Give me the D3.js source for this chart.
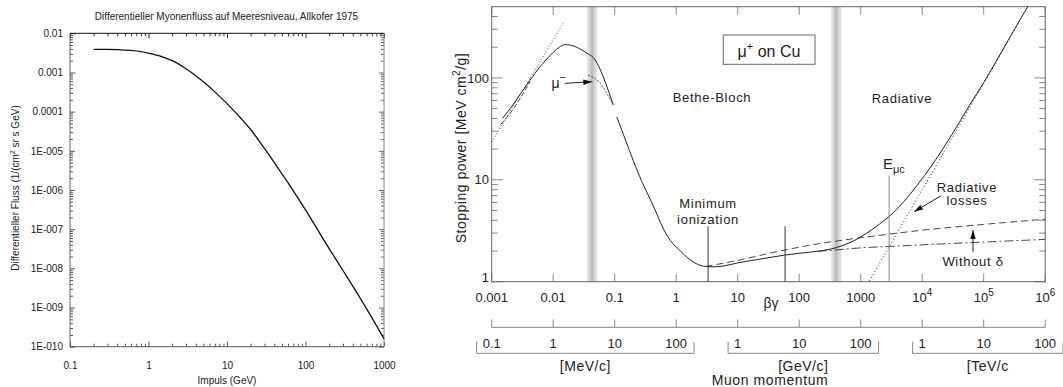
<!DOCTYPE html>
<html>
<head>
<meta charset="utf-8">
<script src="https://cdn.jsdelivr.net/npm/d3@7/dist/d3.min.js"></script>
<style>
html,body{margin:0;padding:0;background:#fff;}
svg{display:block;font-family:"Liberation Sans",Arial,Helvetica,sans-serif;}
</style>
</head>
<body>
<svg id="chart" width="1063" height="387"></svg>
<script>
// ================= DATA: left panel (muon flux at sea level) =================
const fluxMomentum = [0.2,0.3,0.4,0.6,0.8,1,1.5,2,3,4,5,7,10,15,20,30,50,70,100,200,300,500,700,1000];
const fluxValues   = [3.9e-3,3.9e-3,3.85e-3,3.65e-3,3.4e-3,3.1e-3,2.5e-3,2.0e-3,1.25e-3,8.3e-4,5.8e-4,3.2e-4,1.6e-4,6.8e-5,3.5e-5,1.15e-5,2.6e-6,9.5e-7,3.1e-7,3.2e-8,8.8e-9,1.7e-9,5.5e-10,1.6e-10];
const fluxXTicks = [0.1,1,10,100,1000];
const fluxXTickLabels = ["0.1","1","10","100","1000"];
const fluxYTicks = [1e-10,1e-9,1e-8,1e-7,1e-6,1e-5,1e-4,1e-3,1e-2];
const fluxYTickLabels = ["1E-010","1E-009","1E-008","1E-007","1E-006","1E-005","0.0001","0.001","0.01"];

// ================= DATA: right panel (stopping power, mu+ on Cu) =================
const bgTicks = [1e-3,1e-2,1e-1,1,10,100,1000,1e4,1e5,1e6];
const bgTickLabels = ["0.001","0.01","0.1","1","10","100","1000","10^4","10^5","10^6"];
const spTicks = [1,10,100];
const spTickLabels = ["1","10","100"];
const spDomainTop = 500;

// total stopping power, low-energy branch
const totalLowBG = [0.0015,0.002,0.003,0.0042,0.006,0.008,0.01,0.0125,0.0155,0.019,0.025,0.03,0.037,0.045,0.055,0.065,0.08,0.095];
const totalLowS  = [40,50,71,95,127,155,178,200,212,210,198,186,172,158,130,103,73,54];
// total stopping power, Bethe + radiative branch
const totalHighBG = [0.108,0.15,0.2,0.3,0.4,0.5,0.62,0.8,1.15,1.5,2,3,4,6,10,20,40,60,100,200,400,700,1000,1500,2000,3000,5000,8000,15000,30000,60000,1e5,2e5,4e5,6e5];
const totalHighS  = [41.5,24.5,15.5,8.6,6.0,4.4,3.3,2.55,2.02,1.74,1.53,1.41,1.40,1.43,1.53,1.64,1.76,1.83,1.9,1.99,2.16,2.45,2.75,3.22,3.66,4.45,6.1,8.6,14.4,27.4,55,90,185,383,575];
// second low-energy (dashed) curve
const lowDashBG = [0.0014,0.002,0.003,0.0042];
const lowDashS  = [35,45,65,92];
// mu- curve
const muMinusBG = [0.037,0.045,0.055,0.065,0.078,0.09];
const muMinusS  = [106,101,92,81,67,57];
// Lindhard low-energy asymptote (dotted)
const lindhardBG = [0.001,0.0146];
const lindhardS  = [23.6,345];
// ionization without density effect (dashed)
const noDeltaBG = [3,10,59,200,680,1100,1e4,1e5,1e6];
const noDeltaS  = [1.41,1.62,2.05,2.35,2.62,2.72,3.2,3.65,4.1];
// ionization with density effect (dash-dot)
const withDeltaBG = [200,400,680,1000,3000,1e4,1e5,1e6];
const withDeltaS  = [1.99,2.05,2.11,2.15,2.22,2.3,2.45,2.6];
// radiative losses (dotted)
const radBG = [1300,2000,2900,5000,1e4,2e4,5e4,1e5,2e5,4e5];
const radS  = [0.95,1.5,2.2,3.9,8.0,16.5,43,88,182,380];
// vertical marker lines: Minimum ionization, second line, E_muc
const markerBG = [3.3,59,2900];
const markerTopS = [3.5,3.5,11];
// grey transition bands
const bandBG = [0.043,400];
// momentum axis
const momTicks = [0.1,1,10,100,1e3,1e4,1e5,1e6,1e7,1e8];   // MeV/c
const momUnits = ["[MeV/c]","[GeV/c]","[TeV/c"];
const momLabelValues = [[0.1,1,10,100],[1e3,1e4,1e5],[1e6,1e7,1e8]];
const momLabelTexts  = [["0.1","1","10","100"],["1","10","100"],["1","10","100"]];

// ================= DRAWING =================
const svg = d3.select("#chart");
const defs = svg.append("defs");

function logMinors(lo, hi){
  const out=[];
  for(let e=Math.floor(Math.log10(lo)+1e-9); e<Math.ceil(Math.log10(hi)-1e-9); e++){
    for(let k=2;k<=9;k++){ const v=k*Math.pow(10,e); if(v>lo*1.0001 && v<hi*0.9999) out.push(v); }
  }
  return out;
}
function clean(g, color){
  g.attr("font-family",null).attr("font-size",null).attr("fill",null);
  g.select(".domain").remove();
  g.selectAll(".tick line").attr("stroke",color);
  g.selectAll(".tick text").attr("fill","#222");
}

// ---------- LEFT ----------
const L = {x0:70, x1:384, y0:33.3, y1:346.7};
const xL = d3.scaleLog().domain([fluxXTicks[0], fluxXTicks[fluxXTicks.length-1]]).range([L.x0, L.x1]);
const yL = d3.scaleLog().domain([fluxYTicks[0], fluxYTicks[fluxYTicks.length-1]]).range([L.y1, L.y0]);
const gl = svg.append("g").attr("font-size",10);

const xMinL = logMinors(...xL.domain()), yMinL = logMinors(...yL.domain());
gl.append("g").attr("transform",`translate(0,${L.y1})`)
  .call(d3.axisBottom(xL).tickValues(fluxXTicks).tickFormat((d,i)=>fluxXTickLabels[i]).tickSize(-5).tickPadding(15))
  .call(g=>clean(g,"#555"));
gl.append("g").attr("transform",`translate(0,${L.y1})`)
  .call(d3.axisBottom(xL).tickValues(xMinL).tickFormat("").tickSize(-3)).call(g=>clean(g,"#555"));
gl.append("g").attr("transform",`translate(0,${L.y0})`)
  .call(d3.axisTop(xL).tickValues(fluxXTicks).tickFormat("").tickSize(-5)).call(g=>clean(g,"#333"));
gl.append("g").attr("transform",`translate(0,${L.y0})`)
  .call(d3.axisTop(xL).tickValues(xMinL).tickFormat("").tickSize(-3)).call(g=>clean(g,"#333"));
gl.append("g").attr("transform",`translate(${L.x0},0)`)
  .call(d3.axisLeft(yL).tickValues(fluxYTicks).tickFormat((d,i)=>fluxYTickLabels[i]).tickSize(-5).tickPadding(7))
  .call(g=>clean(g,"#555"));
gl.append("g").attr("transform",`translate(${L.x0},0)`)
  .call(d3.axisLeft(yL).tickValues(yMinL).tickFormat("").tickSize(-3)).call(g=>clean(g,"#555"));
gl.append("g").attr("transform",`translate(${L.x1},0)`)
  .call(d3.axisRight(yL).tickValues(fluxYTicks).tickFormat("").tickSize(-5)).call(g=>clean(g,"#666"));
gl.append("g").attr("transform",`translate(${L.x1},0)`)
  .call(d3.axisRight(yL).tickValues(yMinL).tickFormat("").tickSize(-3)).call(g=>clean(g,"#666"));

// frame
gl.append("line").attr("x1",L.x0).attr("x2",L.x0).attr("y1",L.y0).attr("y2",L.y1).attr("stroke","#666");
gl.append("line").attr("x1",L.x1).attr("x2",L.x1).attr("y1",L.y0).attr("y2",L.y1).attr("stroke","#888");
gl.append("line").attr("x1",L.x0).attr("x2",L.x1).attr("y1",L.y1).attr("y2",L.y1).attr("stroke","#555");
gl.append("line").attr("x1",L.x0).attr("x2",L.x1).attr("y1",L.y0).attr("y2",L.y0).attr("stroke","#111");

gl.append("path")
  .datum(fluxMomentum.map((m,i)=>[m,fluxValues[i]]))
  .attr("fill","none").attr("stroke","#111").attr("stroke-width",1.3)
  .attr("d", d3.line().x(d=>xL(d[0])).y(d=>yL(d[1])).curve(d3.curveMonotoneX));

gl.append("text").attr("x",(L.x0+L.x1)/2-0.5).attr("y",20).attr("text-anchor","middle").attr("fill","#222")
  .text("Differentieller Myonenfluss auf Meeresniveau, Allkofer 1975");
gl.append("text").attr("x",(L.x0+L.x1)/2).attr("y",384).attr("text-anchor","middle").attr("fill","#222")
  .text("Impuls (GeV)");
const yt = gl.append("text").attr("transform","translate(19,188) rotate(-90)").attr("text-anchor","middle").attr("fill","#222");
yt.append("tspan").text("Differentieller Fluss (1/(cm");
yt.append("tspan").attr("dy",-4).attr("font-size",7).text("2");
yt.append("tspan").attr("dy",4).text(" sr s GeV)");

// ---------- RIGHT ----------
const R = {x0:491.7, x1:1045.2, y0:6.7, y1:281.7};
const xR = d3.scaleLog().domain([bgTicks[0], bgTicks[bgTicks.length-1]]).range([R.x0, R.x1]);
const yR = d3.scaleLog().domain([spTicks[0], spDomainTop]).range([R.y1, R.y0]);
const pR = d3.scaleLog().domain([momTicks[0], momTicks[momTicks.length-1]]).range([R.x0, R.x1]);
const gr = svg.append("g");

// band gradient
const grad = defs.append("linearGradient").attr("id","bandGrad").attr("x1","0%").attr("x2","100%");
[["0%","#eeeeee"],["30%","#d2d2d2"],["50%","#b8b8b8"],["70%","#d2d2d2"],["100%","#eeeeee"]]
  .forEach(s=>grad.append("stop").attr("offset",s[0]).attr("stop-color",s[1]));
gr.selectAll("rect.band").data(bandBG).join("rect").attr("class","band")
  .attr("x",d=>xR(d)-5.5).attr("width",11).attr("y",R.y0).attr("height",R.y1-R.y0)
  .attr("fill","url(#bandGrad)");

// ticks
const tickCol = "#888";
const spMinor = logMinors(...yR.domain());
const tk = gr.append("g").attr("stroke",tickCol);
tk.selectAll("line.yl").data(spTicks.concat(spMinor)).join("line")
  .attr("x1",R.x0).attr("x2",d=>R.x0+(spTicks.includes(d)?11:6)).attr("y1",d=>yR(d)).attr("y2",d=>yR(d));
tk.selectAll("line.yr").data(spTicks.concat(spMinor)).join("line")
  .attr("x1",R.x1).attr("x2",d=>R.x1-(spTicks.includes(d)?11:6)).attr("y1",d=>yR(d)).attr("y2",d=>yR(d));
tk.selectAll("line.xb").data(bgTicks).join("line")
  .attr("x1",d=>xR(d)).attr("x2",d=>xR(d)).attr("y1",R.y1).attr("y2",R.y1-8);
tk.selectAll("line.xt").data(bgTicks).join("line")
  .attr("x1",d=>xR(d)).attr("x2",d=>xR(d)).attr("y1",R.y0).attr("y2",R.y0+8);

// frame
gr.append("rect").attr("x",R.x0).attr("y",R.y0).attr("width",R.x1-R.x0).attr("height",R.y1-R.y0)
  .attr("fill","none").attr("stroke","#666");

// clip
defs.append("clipPath").attr("id","clipR").append("rect")
  .attr("x",R.x0).attr("y",R.y0).attr("width",R.x1-R.x0).attr("height",R.y1-R.y0);
const cg = gr.append("g").attr("clip-path","url(#clipR)").attr("fill","none");
const lineR = d3.line().x(d=>xR(d[0])).y(d=>yR(d[1])).curve(d3.curveMonotoneX);
function curve(bg, s, dash, col, w){
  cg.append("path").datum(bg.map((b,i)=>[b,s[i]])).attr("d",lineR)
    .attr("stroke",col||"#222").attr("stroke-width",w||1).attr("stroke-dasharray",dash||null);
}
curve(lindhardBG, lindhardS, "1,2", "#444", 1);
curve(lowDashBG, lowDashS, "5,2", "#333", 0.9);
curve(muMinusBG, muMinusS, "2,1.5", "#444", 0.9);
curve(noDeltaBG, noDeltaS, "7,4", "#333", 0.9);
curve(withDeltaBG, withDeltaS, "9,3,2,3", "#333", 0.9);
curve(radBG, radS, "1.2,2.2", "#444", 1);
curve(totalLowBG, totalLowS, null, "#222", 1);
curve(totalHighBG, totalHighS, null, "#222", 1);

// marker lines
gr.selectAll("line.mk").data(markerBG).join("line")
  .attr("x1",d=>xR(d)).attr("x2",d=>xR(d)).attr("y1",(d,i)=>yR(markerTopS[i])).attr("y2",R.y1)
  .attr("stroke",(d,i)=>i===2?"#888":"#333").attr("stroke-width",1);

// tick labels
const tl = gr.append("g").attr("font-size",13).attr("fill","#222").attr("text-anchor","middle");
bgTicks.forEach((v,i)=>{
  const lab = bgTickLabels[i];
  const t = tl.append("text").attr("x",xR(v)).attr("y",301.7);
  if(lab.includes("^")){
    const [b,e] = lab.split("^");
    t.append("tspan").text(b);
    t.append("tspan").attr("dy",-6).attr("font-size",10).text(e);
  } else t.text(lab);
});
spTicks.forEach((v,i)=>{
  tl.append("text").attr("x",489).attr("y",yR(v)).attr("dy",i===0?"0.05em":"0.36em").attr("text-anchor","end").text(spTickLabels[i]);
});

// axis title
const st = gr.append("text").attr("transform","translate(466,148) rotate(-90)").attr("text-anchor","middle")
  .attr("font-size",14).attr("letter-spacing",0.5).attr("fill","#222");
st.append("tspan").text("Stopping power [MeV cm");
st.append("tspan").attr("dy",-6).attr("font-size",10).text("2");
st.append("tspan").attr("dy",6).text("/g]");
gr.append("text").attr("x",771).attr("y",308).attr("text-anchor","middle").attr("font-size",14).attr("fill","#222").text("βγ");

// momentum axis
const ma = gr.append("g").attr("stroke",tickCol).attr("fill","none");
ma.append("line").attr("x1",pR(momTicks[0])).attr("x2",pR(momTicks[momTicks.length-1])).attr("y1",327.3).attr("y2",327.3);
ma.selectAll("line.mt").data(momTicks).join("line")
  .attr("x1",d=>pR(d)).attr("x2",d=>pR(d)).attr("y1",327.3).attr("y2",319.5);
const mt = gr.append("g").attr("font-size",13).attr("fill","#222").attr("text-anchor","middle");
momLabelValues.forEach((vals,gi)=>{
  const texts = vals.map((v,i)=>mt.append("text").attr("x",pR(v)).attr("y",348.3).text(momLabelTexts[gi][i]));
  const w0 = texts[0].node().getComputedTextLength(), w1 = texts[texts.length-1].node().getComputedTextLength();
  const bx0 = pR(vals[0]) - w0/2 - 6, bx1 = pR(vals[vals.length-1]) + w1/2 + 7;
  gr.append("path").attr("d",`M${bx0},341.7V353.3H${bx1}V341.7`).attr("fill","none").attr("stroke",tickCol);
  gr.append("text").attr("x",(bx0+bx1)/2).attr("y",371).attr("text-anchor","middle").attr("font-size",14)
    .attr("letter-spacing",0.5).attr("fill","#222").text(momUnits[gi]);
});
gr.append("text").attr("x",770).attr("y",385).attr("text-anchor","middle").attr("font-size",14)
  .attr("letter-spacing",0.6).attr("fill","#222").text("Muon momentum");

// annotations
const ann = gr.append("g").attr("font-size",13).attr("letter-spacing",0.7).attr("fill","#222").attr("text-anchor","middle");
ann.append("text").attr("x",712).attr("y",101.7).text("Bethe-Bloch");
ann.append("text").attr("x",902).attr("y",103).text("Radiative");
ann.append("text").attr("x",xR(markerBG[0])).attr("y",208.3).text("Minimum");
ann.append("text").attr("x",xR(markerBG[0])).attr("y",224).text("ionization");
ann.append("text").attr("x",967).attr("y",191.7).text("Radiative");
ann.append("text").attr("x",967).attr("y",205).text("losses");
ann.append("text").attr("x",973).attr("y",266).text("Without δ");
const em = ann.append("text").attr("x",883).attr("y",169.3).attr("text-anchor","start").attr("font-size",15).attr("letter-spacing",0);
em.append("tspan").text("E");
em.append("tspan").attr("dy",4).attr("font-size",11).text("μc");
const mm = ann.append("text").attr("x",551.5).attr("y",88).attr("text-anchor","start").attr("font-size",14).attr("letter-spacing",0);
mm.append("tspan").text("μ");
mm.append("tspan").attr("dy",-7).attr("font-size",11).text("−");

// box
gr.append("rect").attr("x",723.3).attr("y",35).attr("width",91.7).attr("height",29.3).attr("fill","#fff").attr("stroke","#666");
const bt = gr.append("text").attr("x",769).attr("y",56.7).attr("text-anchor","middle").attr("font-size",16).attr("fill","#222");
bt.append("tspan").text("μ");
bt.append("tspan").attr("dy",-7).attr("font-size",11).text("+");
bt.append("tspan").attr("dy",7).text(" on Cu");

// arrows
defs.append("marker").attr("id","ah").attr("viewBox","0 0 10 6").attr("refX",10).attr("refY",3)
  .attr("markerWidth",9).attr("markerHeight",5.5).attr("markerUnits","userSpaceOnUse").attr("orient","auto")
  .append("path").attr("d","M0,0L10,3L0,6Z").attr("fill","#111");
const arrows = [[565,83.3,592.3,81.7],[940.7,196,914,211.7],[973,251.7,973,230]];
gr.selectAll("line.arr").data(arrows).join("line")
  .attr("x1",d=>d[0]).attr("y1",d=>d[1]).attr("x2",d=>d[2]).attr("y2",d=>d[3])
  .attr("stroke","#222").attr("stroke-width",1).attr("marker-end","url(#ah)");
</script>
</body>
</html>
